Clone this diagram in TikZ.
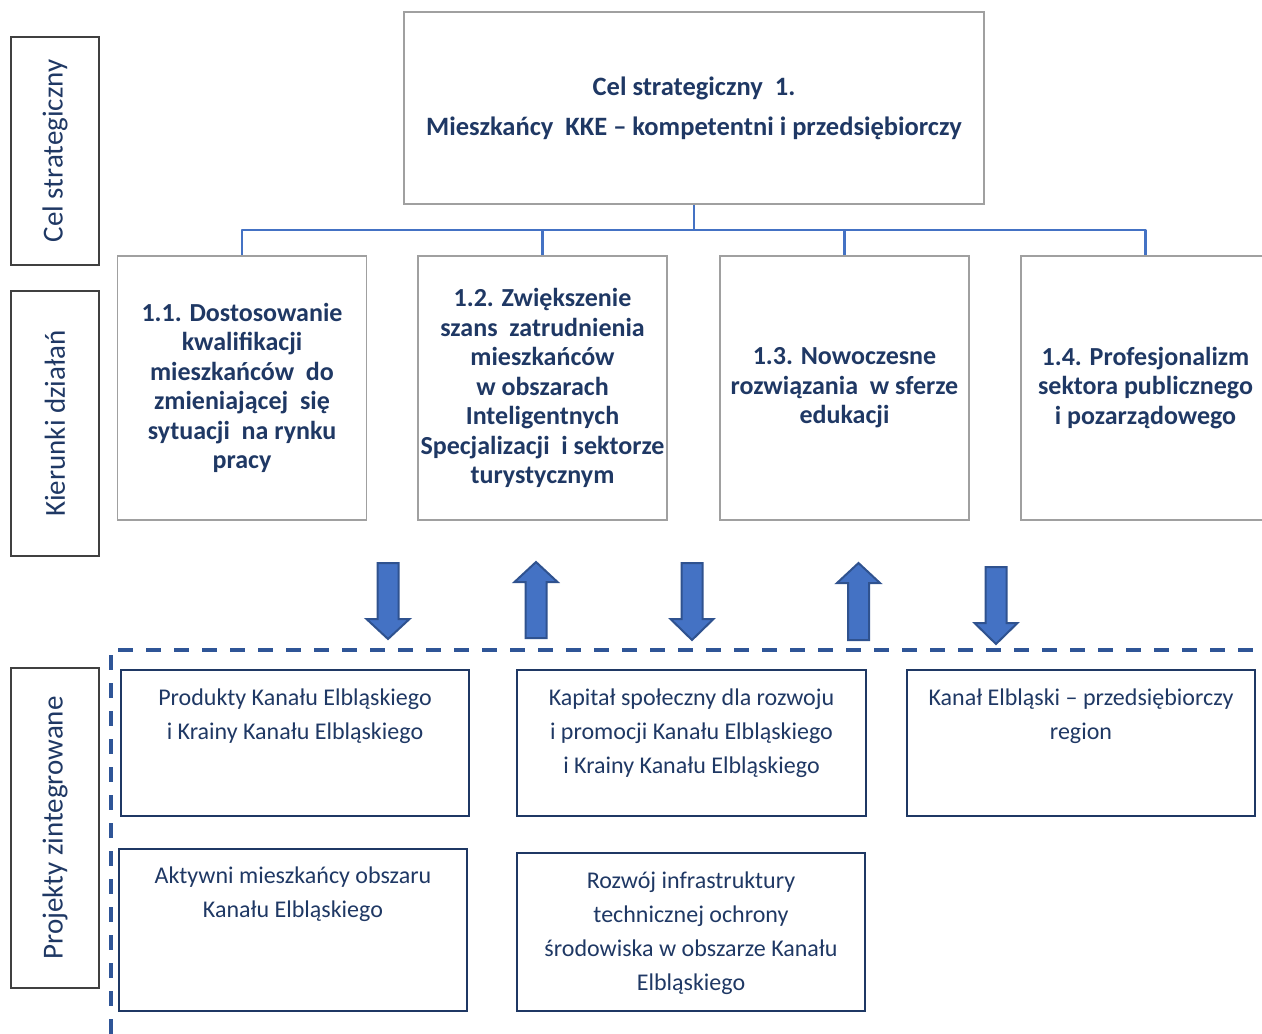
\documentclass[tikz,border=0pt]{standalone}
\usepackage{fontspec}
\setmainfont{Carlito}
\definecolor{navy}{HTML}{1F3864}
\definecolor{lbltext}{HTML}{1F3864}
\definecolor{grayborder}{HTML}{A0A0A0}
\definecolor{connblue}{HTML}{4472C4}
\definecolor{arrowfill}{HTML}{4472C4}
\definecolor{arrowedge}{HTML}{2F528F}
\definecolor{dashblue}{HTML}{2F5597}
\definecolor{boxnavy}{HTML}{1F3864}
\begin{document}
\begin{tikzpicture}[x=1pt,y=-1pt,
  lblbox/.style={draw=black!75, line width=1.3pt, rotate=90, inner sep=0pt,
     text=lbltext, font=\fontsize{29}{32}\selectfont},
  topbox/.style={draw=grayborder, line width=1.8pt, inner sep=0pt, align=center,
     text=navy, font=\bfseries\fontsize{26.5}{40}\selectfont},
  dirbox/.style={draw=grayborder, line width=1.8pt, inner sep=0pt, align=center,
     minimum width=249pt, minimum height=264pt,
     text=navy, font=\bfseries\fontsize{26}{29.5}\selectfont},
  projbox/.style={draw=boxnavy, line width=2.6pt, inner sep=0pt},
  projtext/.style={anchor=north, inner sep=0pt, align=center, text=navy,
     font=\fontsize{24}{34}\selectfont},
  conn/.style={draw=connblue, line width=2.2pt, line join=round},
  blockarrow/.style={draw=arrowedge, fill=arrowfill, line width=2pt, line join=miter},
  dashline/.style={draw=dashblue, line width=3.5pt, dash pattern=on 15pt off 13pt}
]
\useasboundingbox (0,0) rectangle (1262,1034);

% side labels
\node[lblbox, minimum width=228pt, minimum height=88pt] (lcel) at (55,151) {Cel strategiczny};
\node[lblbox, minimum width=265pt, minimum height=88pt] (lkier) at (55,423.5) {Kierunki działań};
\node[lblbox, minimum width=320pt, minimum height=88pt] (lproj) at (55,828) {Projekty zintegrowane};

% top box
\node[topbox, minimum width=580pt, minimum height=192pt] (top) at (694,108)
  {Cel strategiczny\ \ 1.\\Mieszkańcy\ \ KKE – kompetentni i przedsiębiorczy};

% direction boxes
\node[dirbox] (d1) at (242,388) {1.1. Dostosowanie\\kwalifikacji\\mieszkańców\ \ do\\zmieniającej\ \ się\\sytuacji\ \ na rynku\\pracy};
\node[dirbox] (d2) at (542.5,388) {1.2. Zwiększenie\\szans\ \ zatrudnienia\\mieszkańców\\w obszarach\\Inteligentnych\\Specjalizacji\ \ i sektorze\\turystycznym};
\node[dirbox] (d3) at (844.5,388) {1.3. Nowoczesne\\rozwiązania\ \ w sferze\\edukacji};
\node[dirbox] (d4) at (1145.5,388) {1.4. Profesjonalizm\\sektora publicznego\\i pozarządowego};

% connectors
\coordinate (bus) at (694,230);
\draw[conn] (top.south) -- (bus);
\draw[conn] (d1.north) -- (d1.north |- bus) -- (d4.north |- bus) -- (d4.north);
\draw[conn] (d2.north) -- (d2.north |- bus);
\draw[conn] (d3.north) -- (d3.north |- bus);

% block arrows
\newcommand\blockarr[4]{%
  \draw[blockarrow] ({#1-10.5},#2) -- ({#1+10.5},#2) -- ({#1+10.5},#3) -- ({#1+21.5},#3)
    -- (#1,#4) -- ({#1-21.5},#3) -- ({#1-10.5},#3) -- cycle;}
\blockarr{388}{563}{619}{639}
\blockarr{536}{638}{582}{562}
\blockarr{692}{563}{619}{640}
\blockarr{858.5}{640}{583}{563}
\blockarr{996}{567}{623}{644}

% dashed frame
\coordinate (dc) at (111,650);
\coordinate (dr) at (1262,650);
\coordinate (db) at (111,1034);
\draw[dashline] ([xshift=7pt]dc) -- (dr);
\draw[dashline] ([yshift=-5pt]dc) -- (db);

% project boxes
\node[projbox, minimum width=348pt, minimum height=146pt] (p1) at (295,743) {};
\node[projbox, minimum width=349pt, minimum height=146pt] (p2) at (691.5,743) {};
\node[projbox, minimum width=348pt, minimum height=146pt] (p3) at (1081,743) {};
\node[projbox, minimum width=348pt, minimum height=162pt] (p4) at (293,930) {};
\node[projbox, minimum width=348pt, minimum height=158pt] (p5) at (691,932) {};

\node[projtext] (t1) at ([yshift=-19.5pt]p1.north) {Produkty Kanału Elbląskiego\\i Krainy Kanału Elbląskiego};
\node[projtext] (t2) at ([yshift=-19.5pt]p2.north) {Kapitał społeczny dla rozwoju\\i promocji Kanału Elbląskiego\\i Krainy Kanału Elbląskiego};
\node[projtext] (t3) at ([yshift=-19.5pt]p3.north) {Kanał Elbląski – przedsiębiorczy\\region};
\node[projtext] (t4) at ([yshift=-18.5pt]p4.north) {Aktywni mieszkańcy obszaru\\Kanału Elbląskiego};
\node[projtext] (t5) at ([yshift=-19.5pt]p5.north) {Rozwój infrastruktury\\technicznej ochrony\\środowiska w obszarze Kanału\\Elbląskiego};
\end{tikzpicture}
\end{document}
